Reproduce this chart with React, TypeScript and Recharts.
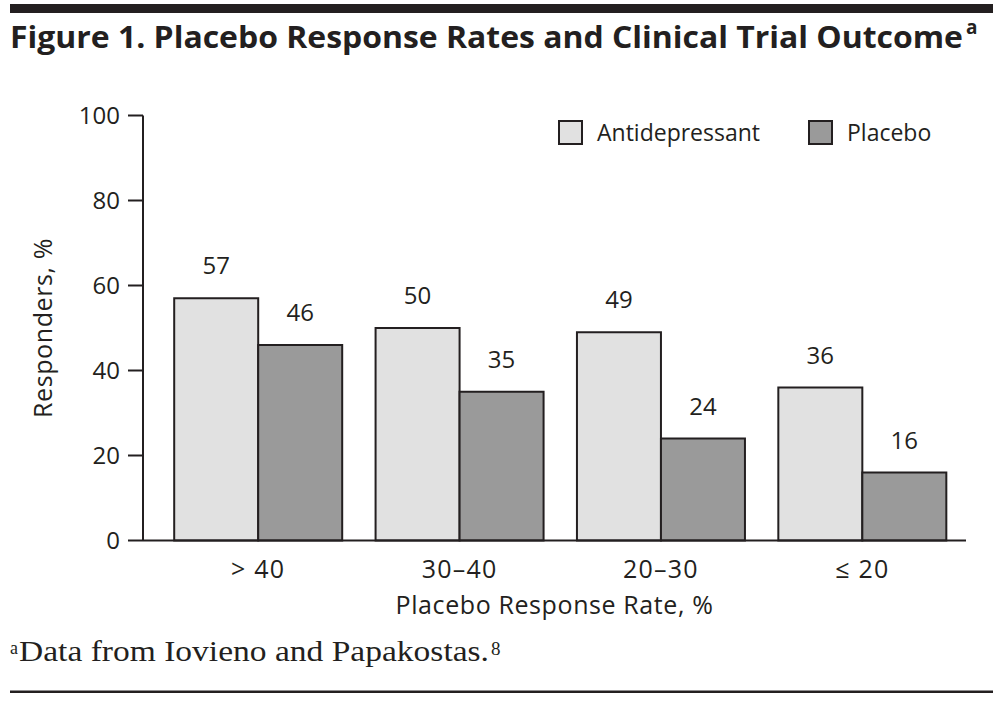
import { BarChart, Bar, XAxis, YAxis, Legend, LabelList, Label } from 'recharts'

const categories = ['> 40', '30–40', '20–30', '≤ 20']
const antidepressant = [57, 50, 49, 36]
const placebo = [46, 35, 24, 16]
const yTicks = [0, 20, 40, 60, 80, 100]

const INK = '#231f20'
const FONT = '"Open Sans", sans-serif'
const SERIF = '"Liberation Serif", "Times New Roman", serif'

const series = [
  { key: 'antidepressant', name: 'Antidepressant', fill: '#e1e1e1' },
  { key: 'placebo', name: 'Placebo', fill: '#9a9a9a' },
]

const data = categories.map((category, i) => ({
  category,
  antidepressant: antidepressant[i],
  placebo: placebo[i],
}))

function LegendContent() {
  return (
    <div style={{ display: 'flex', alignItems: 'center', fontFamily: FONT, fontSize: 23, color: INK, lineHeight: '26px' }}>
      {series.map((s) => (
        <div key={s.key} style={{ display: 'flex', alignItems: 'center', width: 250, flexShrink: 0 }}>
          <span
            style={{
              display: 'inline-block',
              width: 21,
              height: 21,
              background: s.fill,
              border: `2px solid ${INK}`,
              marginRight: 14,
            }}
          />
          <span>{s.name}</span>
        </div>
      ))}
    </div>
  )
}

export default function App() {
  return (
    <div style={{ position: 'absolute', left: 0, top: 0, width: 1005, height: 702, background: '#fff' }}>
      <svg width={1005} height={702} style={{ position: 'absolute', left: 0, top: 0 }}>
        <rect x={10} y={4} width={983} height={9} fill={INK} />
        <text x={10} y={48} fontFamily={FONT} fontWeight={700} fontSize={30} fill={INK} textLength={953} lengthAdjust="spacingAndGlyphs">
          Figure 1. Placebo Response Rates and Clinical Trial Outcome
        </text>
        <text x={966} y={34} fontFamily={FONT} fontWeight={700} fontSize={19} fill={INK}>a</text>
        <text x={10} y={654} fontFamily={SERIF} fontSize={18} fill={INK}>a</text>
        <text x={19} y={661} fontFamily={SERIF} fontSize={29} fill={INK} textLength={470} lengthAdjust="spacingAndGlyphs">
          Data from Iovieno and Papakostas.
        </text>
        <text x={491} y={655} fontFamily={SERIF} fontSize={19} fill={INK}>8</text>
        <rect x={10} y={690.5} width={983} height={2.5} fill={INK} />
      </svg>
      <div style={{ position: 'absolute', left: 0, top: 0 }}>
        <BarChart
          width={1005}
          height={702}
          data={data}
          margin={{ top: 115.5, right: 39, bottom: 131.5, left: 83 }}
          barCategoryGap={16.7}
          barGap={0}
        >
          <XAxis
            dataKey="category"
            tickLine={false}
            tickSize={0}
            tickMargin={20}
            height={30}
            interval={0}
            padding={{ left: 14.5, right: 3 }}
            axisLine={{ stroke: INK, strokeWidth: 2 }}
            tick={{ fill: INK, fontSize: 25, fontFamily: FONT, letterSpacing: 1.2 }}
          >
            <Label
              value="Placebo Response Rate, %"
              position="bottom"
              offset={26}
              fill={INK}
              fontSize={25}
              fontFamily={FONT}
              style={{ letterSpacing: 0.6 }}
            />
          </XAxis>
          <YAxis
            domain={[0, 100]}
            ticks={yTicks}
            interval={0}
            width={60}
            tickSize={15}
            tickMargin={8}
            axisLine={{ stroke: INK, strokeWidth: 2 }}
            tickLine={{ stroke: INK, strokeWidth: 2 }}
            tick={{ fill: INK, fontSize: 24, fontFamily: FONT }}
          >
            <Label
              value="Responders, %"
              angle={-90}
              position="left"
              offset={40}
              fill={INK}
              fontSize={25}
              fontFamily={FONT}
              style={{ textAnchor: 'middle', letterSpacing: 0.6 }}
            />
          </YAxis>
          <Legend
            layout="horizontal"
            align="center"
            verticalAlign="middle"
            content={<LegendContent />}
            wrapperStyle={{ top: 119, left: 558, width: 440, height: 26 }}
          />
          {series.map((s) => (
            <Bar
              key={s.key}
              dataKey={s.key}
              name={s.name}
              fill={s.fill}
              stroke={INK}
              strokeWidth={2}
              isAnimationActive={false}
            >
              <LabelList dataKey={s.key} position="top" offset={24} fill={INK} fontSize={24} fontFamily={FONT} />
            </Bar>
          ))}
        </BarChart>
      </div>
    </div>
  )
}
